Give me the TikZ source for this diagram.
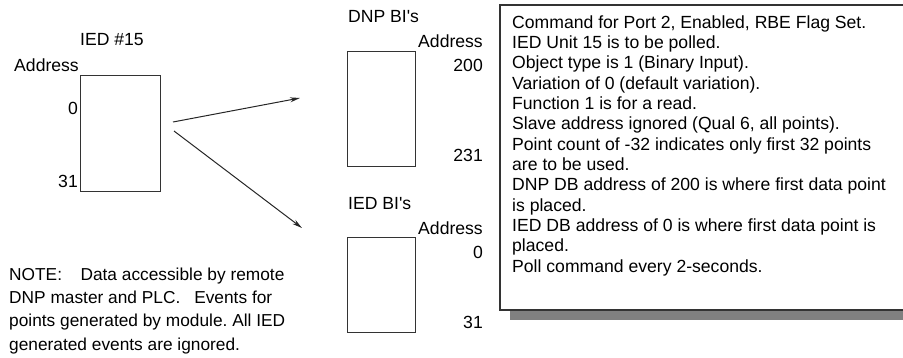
\documentclass[tikz,border=0pt]{standalone}
\usepackage{fontspec}
\setmainfont{Liberation Sans}
\usetikzlibrary{arrows.meta}
\begin{document}
\frenchspacing
\begin{tikzpicture}[x=1pt,y=-1pt,
  lbl/.style={inner sep=0pt,font=\fontsize{17.6}{20.33}\selectfont},
  membox/.style={draw=black!80,line width=1.1pt,inner sep=0pt,anchor=north west},
  arr/.style={draw=black!85,line width=1pt,-{Stealth[length=10pt,width=5pt]}}]
\useasboundingbox (0,0) rectangle (903,358);
\clip (0,0) rectangle (903,358);
% IED #15
\node[membox,minimum width=80pt,minimum height=116pt] (ied) at (80,75) {};
\node[lbl] (iedt) at (112,40) {IED \#15};
\node[lbl,anchor=east] (iedaddr) at (79,65) {Address};
\node[lbl,anchor=east] (i0) at (78,108) {0};
\node[lbl,anchor=east] (i31) at (78,181) {31};
% DNP BI's
\node[membox,minimum width=68pt,minimum height=115pt] (dnp) at (347,51) {};
\node[lbl,anchor=west] (dnpt) at (348,17) {DNP BI\textquotesingle s};
\node[lbl,anchor=east] (dnpaddr) at (483,41) {Address};
\node[lbl,anchor=east] (d200) at (483,65) {200};
\node[lbl,anchor=east] (d231) at (483,155) {231};
% IED BI's
\node[membox,minimum width=68pt,minimum height=95pt] (iedbi) at (347,237) {};
\node[lbl,anchor=west] (iedbit) at (348,204) {IED BI\textquotesingle s};
\node[lbl,anchor=east] (iaddr2) at (483,228) {Address};
\node[lbl,anchor=east] (b0) at (483,252) {0};
\node[lbl,anchor=east] (b31) at (483,322) {31};
% arrows
\coordinate (a1s) at (173,122);
\coordinate (a1e) at (300,98);
\coordinate (a2s) at (174,131);
\coordinate (a2e) at (302,228);
\draw[arr] (a1s) -- (a1e);
\draw[arr] (a2s) -- (a2e);
% note
\node[lbl,anchor=north west,align=left,font=\fontsize{17.3}{23.3}\selectfont] (note) at (9,267.5)
 {NOTE:\hspace{18.5pt}Data accessible by remote\\
  DNP master and PLC.\hspace{14pt}Events for\\
  points generated by module. All IED\\
  generated events are ignored.};
% command box
\fill[black!50] (510,310) rectangle (915,320);
\draw[draw=black!80,fill=white,line width=1.1pt] (500,5) rectangle (910,310);
\node[lbl,anchor=north west,align=left] (cmd) at (512,15.2)
 {Command for Port 2, Enabled, RBE Flag Set.\\
  IED Unit 15 is to be polled.\\
  Object type is 1 (Binary Input).\\
  Variation of 0 (default variation).\\
  Function 1 is for a read.\\
  Slave address ignored (Qual 6, all points).\\
  Point count of -32 indicates only first 32 points\\
  are to be used.\\
  DNP DB address of 200 is where first data point\\
  is placed.\\
  IED DB address of 0 is where first data point is\\
  placed.\\
  Poll command every 2-seconds.};
\end{tikzpicture}
\end{document}
